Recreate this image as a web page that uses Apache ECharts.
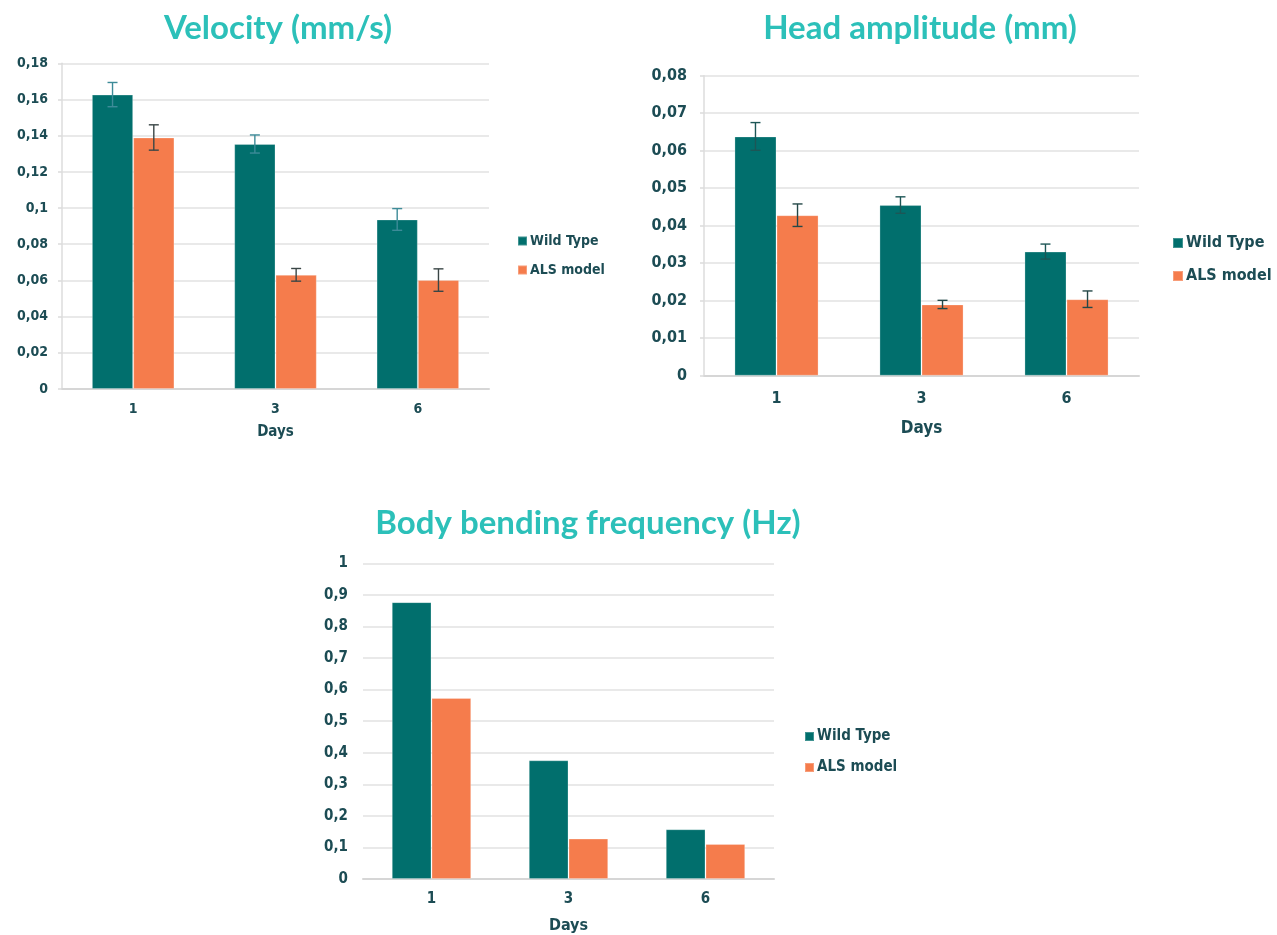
<!DOCTYPE html>
<html>
<head>
<meta charset="utf-8">
<script src="https://cdn.jsdelivr.net/npm/echarts@6/dist/echarts.min.js"></script>
<style>
  html, body { margin: 0; padding: 0; background: #fff; }
  #chart { width: 1277px; height: 935px; }
</style>
</head>
<body>
<div id="chart"></div>
<script>
// ---- data ----
const days = ['1', '3', '6'];
const seriesNames = ['Wild Type', 'ALS model'];

const velocityWT = [0.1627, 0.1354, 0.0937];
const velocityWTErr = [0.0067, 0.0050, 0.0060];
const velocityALS = [0.1390, 0.0631, 0.0602];
const velocityALSErr = [0.0070, 0.0035, 0.0062];

const amplitudeWT = [0.0638, 0.0455, 0.0331];
const amplitudeWTErr = [0.0037, 0.0022, 0.0020];
const amplitudeALS = [0.0428, 0.0190, 0.0204];
const amplitudeALSErr = [0.0030, 0.0011, 0.0022];

const frequencyWT = [0.877, 0.376, 0.1576];
const frequencyALS = [0.5735, 0.128, 0.111];

const titles = ['Velocity (mm/s)', 'Head amplitude (mm)', 'Body bending frequency (Hz)'];
const axisName = 'Days';

// ---- style ----
const TEAL = '#016f6d';
const ORANGE = '#f57c4c';
const LABEL = '#1c4c54';
const TITLE = '#2cc0b9';
const GRIDLINE = '#e2e2e2';
const GAP = '42%';
const FONT = '"DejaVu Sans Condensed", "DejaVu Sans"';
const WEIGHT = 'bold';

function fmt(v) { return String(+v.toFixed(4)).replace('.', ','); }

function errData(vals, errs) {
  return vals.map((v, i) => [i, v - errs[i], v + errs[i]]);
}

function errRender(sign, color) {
  return function (params, api) {
    const x = api.value(0);
    const lo = api.coord([x, api.value(1)]);
    const hi = api.coord([x, api.value(2)]);
    const band = api.size([1, 0])[0];
    const cx = lo[0] + sign * band * 0.145;
    const cap = 5;
    const st = { stroke: color, lineWidth: 1.4 };
    return {
      type: 'group',
      children: [
        { type: 'line', shape: { x1: cx, y1: lo[1], x2: cx, y2: hi[1] }, style: st },
        { type: 'line', shape: { x1: cx - cap, y1: hi[1], x2: cx + cap, y2: hi[1] }, style: st },
        { type: 'line', shape: { x1: cx - cap, y1: lo[1], x2: cx + cap, y2: lo[1] }, style: st }
      ]
    };
  };
}

function xAxisCfg(gridIndex, fs, margin, nameGap) {
  return {
    gridIndex, type: 'category', data: days,
    axisLine: { show: true, lineStyle: { color: '#d6d6d6', width: 2 } },
    axisTick: { show: false },
    axisLabel: { color: LABEL, fontSize: fs, fontFamily: FONT, fontWeight: WEIGHT, margin },
    name: axisName, nameLocation: 'middle', nameGap,
    nameTextStyle: { color: LABEL, fontSize: fs + 1, fontFamily: FONT, fontWeight: WEIGHT }
  };
}

function yAxisCfg(gridIndex, max, interval, fs, margin, showLine) {
  return {
    gridIndex, type: 'value', min: 0, max, interval,
    axisLine: { show: showLine, lineStyle: { color: '#dcdcdc', width: 1.5 } },
    axisTick: { show: showLine, inside: false, length: 4, lineStyle: { color: '#dcdcdc', width: 1.5 } },
    axisLabel: { color: LABEL, fontSize: fs, fontFamily: FONT, fontWeight: WEIGHT, margin, formatter: fmt },
    splitLine: { show: true, lineStyle: { color: GRIDLINE, width: 1.5 } }
  };
}

function legendCfg(left, top, fs, icon, gap) {
  return {
    orient: 'vertical', left, top, padding: 0, data: seriesNames,
    icon: 'rect', itemWidth: icon, itemHeight: icon, itemGap: gap,
    textStyle: { color: LABEL, fontSize: fs, fontFamily: FONT, fontWeight: WEIGHT, padding: [0, 0, 0, -2] }
  };
}

function barSeries(name, data, color, idx) {
  return {
    name, type: 'bar', data, xAxisIndex: idx, yAxisIndex: idx,
    barGap: '0%', barCategoryGap: GAP,
    itemStyle: { color, borderColor: 'rgba(255,255,255,0.25)', borderWidth: 1 },
    emphasis: { disabled: true }
  };
}

function errSeries(name, data, sign, color, idx) {
  return {
    name, type: 'custom', xAxisIndex: idx, yAxisIndex: idx, z: 10,
    renderItem: errRender(sign, color),
    encode: { x: 0, y: [1, 2] },
    data, silent: true
  };
}

const titleStyle = { color: TITLE, fontSize: 33, fontWeight: 'bold', fontFamily: 'Lato' };

const option = {
  animation: false,
  backgroundColor: '#ffffff',
  title: [
    { text: titles[0], left: 278, top: 12, padding: 0, textAlign: 'center', textStyle: titleStyle },
    { text: titles[1], left: 920, top: 12, padding: 0, textAlign: 'center', textStyle: titleStyle },
    { text: titles[2], left: 588, top: 507, padding: 0, textAlign: 'center', textStyle: titleStyle }
  ],
  legend: [
    legendCfg(517, 234, 14, 9, 15),
    legendCfg(1172, 235, 16, 10, 17),
    legendCfg(804, 729, 15, 9, 16)
  ],
  grid: [
    { left: 62, right: 788, top: 63.3, bottom: 546 },
    { left: 704, right: 138, top: 75.7, bottom: 559.3 },
    { left: 363, right: 503, top: 563.3, bottom: 54.3 }
  ],
  xAxis: [
    xAxisCfg(0, 14, 13, 36),
    xAxisCfg(1, 16, 15, 44),
    xAxisCfg(2, 15, 13, 39)
  ],
  yAxis: [
    yAxisCfg(0, 0.18, 0.02, 14, 14, true),
    yAxisCfg(1, 0.08, 0.01, 16, 17, true),
    yAxisCfg(2, 1, 0.1, 15, 15, false)
  ],
  series: [
    barSeries(seriesNames[0], velocityWT, TEAL, 0),
    barSeries(seriesNames[1], velocityALS, ORANGE, 0),
    errSeries('velWTErr', errData(velocityWT, velocityWTErr), -1, '#3d8b98', 0),
    errSeries('velALSErr', errData(velocityALS, velocityALSErr), 1, '#3a4646', 0),

    barSeries(seriesNames[0], amplitudeWT, TEAL, 1),
    barSeries(seriesNames[1], amplitudeALS, ORANGE, 1),
    errSeries('ampWTErr', errData(amplitudeWT, amplitudeWTErr), -1, '#1d5656', 1),
    errSeries('ampALSErr', errData(amplitudeALS, amplitudeALSErr), 1, '#244848', 1),

    barSeries(seriesNames[0], frequencyWT, TEAL, 2),
    barSeries(seriesNames[1], frequencyALS, ORANGE, 2)
  ]
};

const chart = echarts.init(document.getElementById('chart'), null, { renderer: 'canvas' });
chart.setOption(option);
</script>
</body>
</html>
